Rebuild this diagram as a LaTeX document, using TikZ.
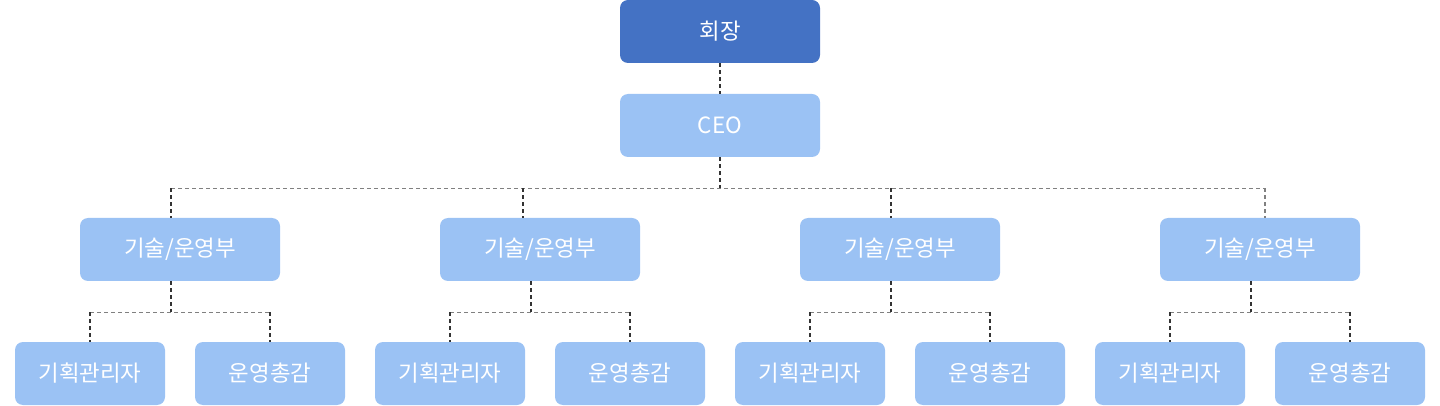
\documentclass[tikz,border=0pt]{standalone}
\usepackage{fontspec}
\setmainfont{Noto Sans CJK KR}
\usetikzlibrary{positioning}
\definecolor{chairblue}{HTML}{4472C4}
\definecolor{unitblue}{HTML}{9BC2F4}
\definecolor{linegray}{HTML}{333333}
\definecolor{busgray}{HTML}{808080}

\begin{document}
\begin{tikzpicture}[x=0.5pt,y=-0.5pt,on grid,
   box/.style={rounded corners=4pt, inner sep=0pt, minimum height=31.5pt,
      text=white, font=\fontsize{11.2}{13}\selectfont},
   chief/.style={box, fill=chairblue, minimum width=100pt},
   unit/.style={box, fill=unitblue, minimum width=100pt},
   team/.style={box, fill=unitblue, minimum width=75pt},
   link/.style={draw=linegray, line width=0.55pt, dash pattern=on 2pt off 1.5pt},
   bus/.style={link, draw=busgray}]
   \useasboundingbox (0,0) rectangle (1440,406);

   \node[chief] (boss) at (720,31.5) {회장};
   \node[unit] (ceo) [below=47pt of boss] {CEO};

   \node[unit] (d1) [below left=62pt and 270pt of ceo] {기술/운영부};
   \node[unit] (d2) [below left=62pt and 90pt of ceo] {기술/운영부};
   \node[unit] (d3) [below right=62pt and 90pt of ceo] {기술/운영부};
   \node[unit] (d4) [below right=62pt and 270pt of ceo] {기술/운영부};

   \node[team] (p1) [below left=62pt and 45pt of d1] {기획관리자};
   \node[team] (o1) [below right=62pt and 45pt of d1] {운영총감};
   \node[team] (p2) [below left=62pt and 45pt of d2] {기획관리자};
   \node[team] (o2) [below right=62pt and 45pt of d2] {운영총감};
   \node[team] (p3) [below left=62pt and 45pt of d3] {기획관리자};
   \node[team] (o3) [below right=62pt and 45pt of d3] {운영총감};
   \node[team] (p4) [below left=62pt and 45pt of d4] {기획관리자};
   \node[team] (o4) [below right=62pt and 45pt of d4] {운영총감};

   % top of the chart
   \coordinate (hub) at ([yshift=-15.5pt]ceo.south);
   \coordinate (t1) at ([xshift=-4.5pt]d1.north);
   \coordinate (t2) at ([xshift=-8.5pt]d2.north);
   \coordinate (t3) at ([xshift=-4.5pt]d3.north);
   \coordinate (t4) at ([xshift=2.5pt]d4.north);
   \draw[link] (boss) -- (ceo);
   \draw[link] (ceo) -- (hub);
   \draw[bus] (t1 |- hub) -- (t4 |- hub);
   \draw[link] (t1 |- hub) -- (t1);
   \draw[link] (t2 |- hub) -- (t2);
   \draw[link] (t3 |- hub) -- (t3);
   \draw[bus] (t4 |- hub) -- (t4);

   % teams under each unit
   \foreach \u/\p/\o in {d1/p1/o1, d2/p2/o2, d3/p3/o3, d4/p4/o4} {
      \coordinate (s) at ([xshift=-4.5pt]\u.south);
      \coordinate (j) at ([yshift=-15.5pt]s);
      \draw[link] (s) -- (j);
      \draw[bus] (\p.north |- j) -- (\o.north |- j);
      \draw[link] (\p.north |- j) -- (\p);
      \draw[link] (\o.north |- j) -- (\o);
   }
\end{tikzpicture}
\end{document}
